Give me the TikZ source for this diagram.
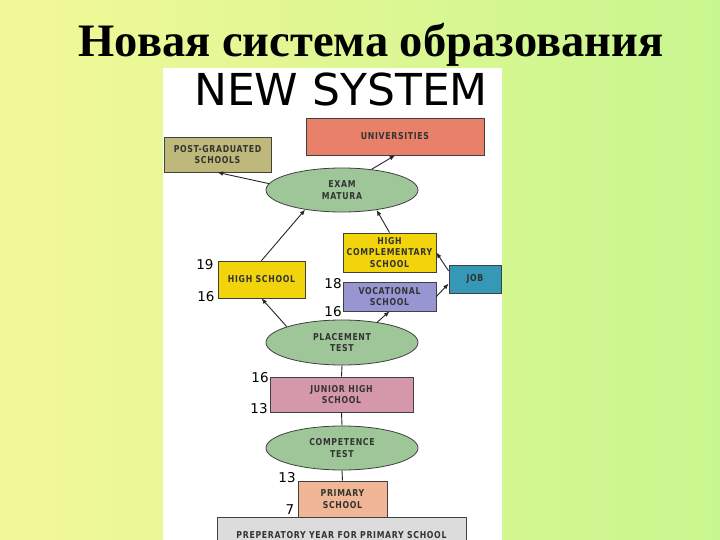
\documentclass[tikz,border=0pt]{standalone}
\usepackage{fontspec}
\setmainfont{Liberation Serif}
\newfontfamily\boxfont[LetterSpace=7,FakeStretch=0.82]{DejaVu Sans}
\newfontfamily\plainsans{DejaVu Sans}
\usetikzlibrary{shapes.geometric, arrows.meta}
\definecolor{bgleft}{RGB}{243,248,152}
\definecolor{bgright}{RGB}{200,246,142}
\definecolor{univcol}{RGB}{232,128,106}
\definecolor{postcol}{RGB}{190,184,122}
\definecolor{testcol}{RGB}{158,198,152}
\definecolor{highcol}{RGB}{242,212,12}
\definecolor{jobcol}{RGB}{52,152,182}
\definecolor{voccol}{RGB}{152,150,210}
\definecolor{juncol}{RGB}{212,152,170}
\definecolor{primcol}{RGB}{240,182,150}
\definecolor{prepcol}{RGB}{220,220,220}

\begin{document}
\begin{tikzpicture}[x=1pt,y=-1pt,inner sep=1pt,>={Latex[length=5.5pt,width=4.5pt]},
  box/.style={draw=black!75,line width=.8pt,rectangle,align=center,
    font=\boxfont\bfseries\fontsize{9.5}{11.5}\selectfont,text=black!80},
  test/.style={box,ellipse,fill=testcol,minimum width=152,minimum height=44},
  age/.style={font=\plainsans\fontsize{13.5}{13.5}\selectfont},
  link/.style={->,line width=.9pt,black!85}]
\useasboundingbox (0,0) rectangle (720,540);
\clip (0,0) rectangle (720,540);
\shade[left color=bgleft,right color=bgright] (0,0) rectangle (720,540);
\fill[white] (163,68) rectangle (502,540);

\node (title) at (371,45) {\bfseries\fontsize{46.5}{46.5}\selectfont Новая система образования};
\node (newsys) at (341,89) {\plainsans\fontsize{44}{44}\selectfont NEW SYSTEM};

\node[box,fill=univcol,minimum width=178,minimum height=37] (univ) at (395,136.5) {UNIVERSITIES};
\node[box,fill=postcol,minimum width=107,minimum height=35] (postgrad) at (217.5,154.5) {POST-GRADUATED\\SCHOOLS};
\node[test] (exam) at (342,190) {EXAM\\MATURA};
\node[box,fill=highcol,minimum width=93,minimum height=39] (highcomp) at (389.5,252.5) {HIGH\\COMPLEMENTARY\\SCHOOL};
\node[box,fill=highcol,minimum width=87,minimum height=37] (highschool) at (261.5,279.5) {HIGH SCHOOL};
\node[box,fill=jobcol,minimum width=52,minimum height=28] (job) at (475,279) {JOB};
\node[box,fill=voccol,minimum width=93,minimum height=29] (vocational) at (389.5,296.5) {VOCATIONAL\\SCHOOL};
\node[test,minimum height=45] (placement) at (342,342.5) {PLACEMENT\\TEST};
\node[box,fill=juncol,minimum width=143,minimum height=35] (junior) at (341.5,394.5) {JUNIOR HIGH\\SCHOOL};
\node[test] (competence) at (342,448) {COMPETENCE\\TEST};
\node[box,fill=primcol,minimum width=89,minimum height=36] (primary) at (342.5,499) {PRIMARY\\SCHOOL};
\node[box,fill=prepcol,minimum width=249,minimum height=36] (prep) at (341.5,535) {PREPERATORY YEAR FOR PRIMARY SCHOOL};

\node[age] (hsTop) at (205,265) {19};
\node[age] (hsBot) at (206,297) {16};
\node[age] (vocTop) at (333,284) {18};
\node[age] (vocBot) at (333,312) {16};
\node[age] (junTop) at (260,378) {16};
\node[age] (junBot) at (259,409) {13};
\node[age] (primTop) at (287,478) {13};
\node[age] (primBot) at (290,510) {7};

\draw[link] (exam.35) -- (univ.south);
\draw[link] (exam.175) -- (postgrad.south);
\draw[link] (highschool.north) -- (exam.208);
\draw[link] (highcomp.north) -- (exam.330);
\draw[link] (job.163) -- (highcomp.east);
\draw[link] (vocational.east) -- (job.190);
\draw[link] (placement.164) -- (highschool.south);
\draw[link] (placement.30) -- (vocational.south);
\draw[line width=.9pt,black!85] (placement.south) -- (junior.north);
\draw[line width=.9pt,black!85] (junior.south) -- (competence.north);
\draw[line width=.9pt,black!85] (competence.south) -- (primary.north);
\end{tikzpicture}
\end{document}
